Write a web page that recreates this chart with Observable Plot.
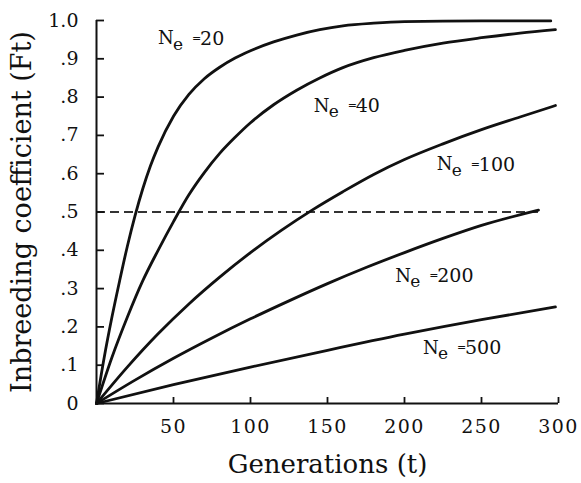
<!DOCTYPE html>
<html>
<head>
<meta charset="utf-8">
<script src="https://cdn.jsdelivr.net/npm/d3@7"></script>
<script src="https://cdn.jsdelivr.net/npm/@observablehq/plot@0.6"></script>
<style>
  html, body { margin: 0; padding: 0; background: #fff; }
  g[aria-label="ne-value"] text { letter-spacing: 2px; }
  g[aria-label="x-axis tick label"] text { letter-spacing: 1.5px; }
</style>
</head>
<body>
<div id="chart"></div>
<script>
// Generations (t) and inbreeding coefficient (Ft)
const ne20T = [0, 5, 10, 15, 20, 25, 30, 35, 40, 50, 60, 70, 80, 90, 100, 115, 130, 145, 160, 180, 200, 250, 295];
const ne20F = [0, 0.12, 0.225, 0.32, 0.41, 0.49, 0.56, 0.62, 0.67, 0.75, 0.807, 0.848, 0.878, 0.902, 0.921, 0.944, 0.962, 0.976, 0.986, 0.993, 0.997, 0.999, 0.999];

const ne40T = [0, 10, 20, 30, 40, 50, 60, 70, 80, 90, 100, 115, 130, 145, 160, 180, 200, 225, 250, 275, 298];
const ne40F = [0, 0.12, 0.225, 0.32, 0.40, 0.475, 0.545, 0.603, 0.653, 0.695, 0.733, 0.78, 0.818, 0.85, 0.877, 0.903, 0.922, 0.941, 0.955, 0.967, 0.976];

const ne100T = [0, 20, 40, 60, 80, 100, 120, 140, 160, 180, 200, 225, 250, 275, 298];
const ne100F = [0, 0.095, 0.182, 0.26, 0.33, 0.394, 0.452, 0.505, 0.553, 0.598, 0.637, 0.678, 0.715, 0.748, 0.778];

const ne200T = [0, 25, 50, 75, 100, 125, 150, 175, 200, 225, 250, 287];
const ne200F = [0, 0.061, 0.118, 0.171, 0.221, 0.268, 0.313, 0.355, 0.394, 0.431, 0.465, 0.505];

const ne500T = [0, 50, 100, 150, 200, 250, 298];
const ne500F = [0, 0.049, 0.095, 0.139, 0.181, 0.219, 0.252];

// Curve labels (Ne values) and where they sit, in data units
const neValues = [20, 40, 100, 200, 500];
const labelT = [40, 141, 221, 194, 212];
const labelF = [0.953, 0.777, 0.624, 0.333, 0.145];

// Half-way reference line
const halfF = 0.5;
const halfEndT = 287;

// Ticks
const xTicks = [50, 100, 150, 200, 250, 300];
const yTicks = [0, 0.1, 0.2, 0.3, 0.4, 0.5, 0.6, 0.7, 0.8, 0.9, 1.0];
const yTickLabels = ["0", ".1", ".2", ".3", ".4", ".5", ".6", ".7", ".8", ".9", "1.0"];

const series = [
  [20, ne20T, ne20F], [40, ne40T, ne40F], [100, ne100T, ne100F],
  [200, ne200T, ne200F], [500, ne500T, ne500F]
];
const rows = series.flatMap(([ne, ts, fs]) => ts.map((t, i) => ({ne, t, f: fs[i]})));
const labels = neValues.map((ne, i) => ({ne, t: labelT[i], f: labelF[i]}));

const chart = Plot.plot({
  width: 581,
  height: 483,
  marginLeft: 96,
  marginRight: 23,
  marginTop: 20,
  marginBottom: 80,
  style: {fontFamily: "DejaVu Serif", background: "#fff", color: "#111"},
  x: {domain: [0, 300]},
  y: {domain: [0, 1]},
  marks: [
    Plot.ruleY([halfF], {x1: 0, x2: halfEndT, stroke: "#333", strokeWidth: 1.8, strokeDasharray: "9,5"}),
    Plot.line(rows, {x: "t", y: "f", z: "ne", curve: "monotone-x", stroke: "#111", strokeWidth: 2.8}),
    Plot.ruleX([0], {stroke: "#111", strokeWidth: 2}),
    Plot.ruleY([0], {stroke: "#111", strokeWidth: 2}),
    Plot.axisY({ticks: yTicks, tickFormat: (d) => yTickLabels[yTicks.indexOf(d)], tickSize: -8, tickPadding: 26, fontSize: 19, strokeWidth: 1.8, label: null}),
    Plot.axisX({ticks: xTicks, tickSize: -6, tickPadding: 22, fontSize: 19, strokeWidth: 1.8, label: null}),
    Plot.text(["Inbreeding coefficient (Ft)"], {frameAnchor: "left", textAnchor: "middle", lineAnchor: "middle", rotate: -90, dx: -74, fontSize: 27, fill: "#111"}),
    Plot.text(["Generations (t)"], {frameAnchor: "bottom", textAnchor: "middle", lineAnchor: "middle", dy: 61, fontSize: 26, fill: "#111"}),
    Plot.text(labels, {x: "t", y: "f", text: () => "N", textAnchor: "start", fontSize: 18, fill: "#111"}),
    Plot.text(labels, {x: "t", y: "f", text: () => "e", textAnchor: "start", dx: 15, dy: 6, fontSize: 17, fill: "#111"}),
    Plot.text(labels, {x: "t", y: "f", text: () => "=", textAnchor: "start", dx: 34, fontSize: 11, fill: "#111"}),
    Plot.text(labels, {x: "t", y: "f", text: (d) => String(d.ne), textAnchor: "start", dx: 42, fontSize: 19, fill: "#111", ariaLabel: "ne-value"})
  ]
});
document.getElementById("chart").appendChild(chart);
</script>
</body>
</html>
